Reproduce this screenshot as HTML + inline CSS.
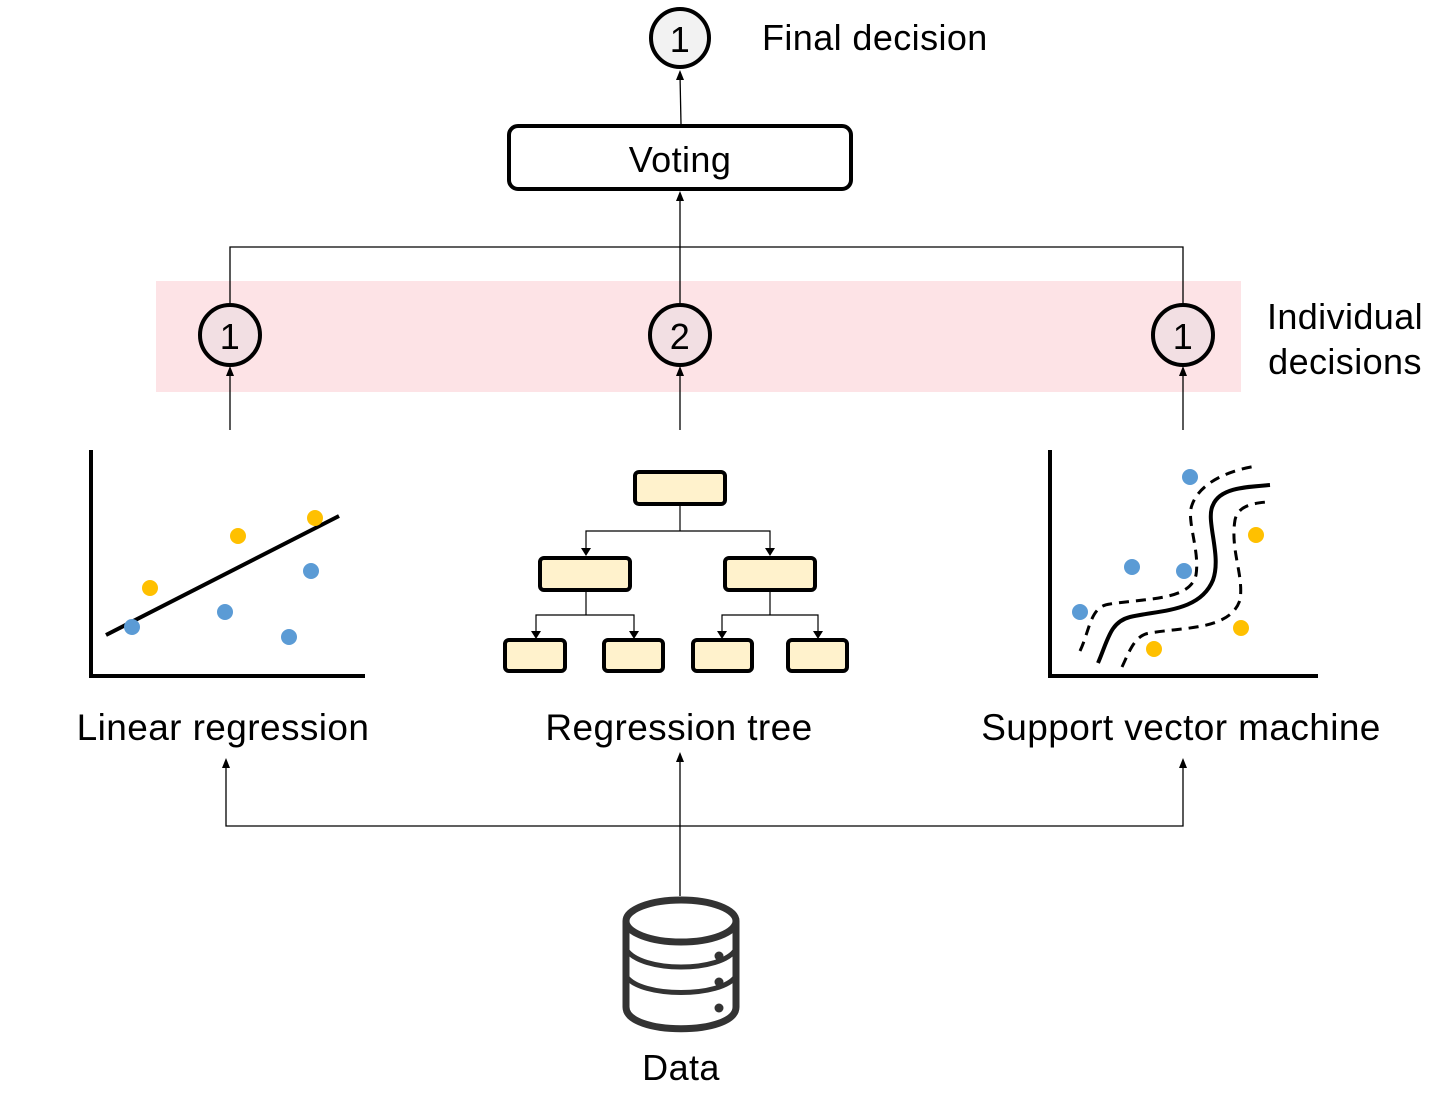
<!DOCTYPE html>
<html><head><style>body{margin:0;background:#fff}svg{display:block}text{font-family:"Liberation Sans","Noto Sans CJK KR",sans-serif;fill:#000;letter-spacing:0.4px}</style></head>
<body>
<svg width="1450" height="1110" viewBox="0 0 1450 1110" xmlns="http://www.w3.org/2000/svg">
<rect x="156" y="281" width="1085" height="111" fill="#fde3e6"/>
<!-- top -->
<circle cx="680" cy="38" r="29" fill="#f2f2f2" stroke="#000" stroke-width="4"/>
<text x="680" y="52" font-size="36" text-anchor="middle">1</text>
<text x="762" y="50" font-size="36">Final decision</text>
<line x1="681" y1="124" x2="680" y2="75" stroke="#000" stroke-width="1.3"/>
<rect x="509" y="126" width="342" height="63" rx="9" fill="#fff" stroke="#000" stroke-width="4"/>
<text x="680" y="172" font-size="36" text-anchor="middle">Voting</text>
<path d="M230,303 V247 H1183 V303" fill="none" stroke="#000" stroke-width="1.3"/>
<line x1="680" y1="303" x2="680" y2="198" stroke="#000" stroke-width="1.3"/>
<g fill="#f2dfe3" stroke="#000" stroke-width="4">
<circle cx="230" cy="335" r="30"/><circle cx="680" cy="335" r="30"/><circle cx="1183" cy="335" r="30"/></g>
<g font-size="36" text-anchor="middle"><text x="230" y="349">1</text><text x="680" y="349">2</text><text x="1183" y="349">1</text></g>
<text x="1345" y="329" font-size="36" text-anchor="middle">Individual</text>
<text x="1345" y="374" font-size="36" text-anchor="middle">decisions</text>
<g stroke="#000" stroke-width="1.3">
<line x1="230" y1="430" x2="230" y2="372"/>
<line x1="680" y1="430" x2="680" y2="372"/>
<line x1="1183" y1="430" x2="1183" y2="372"/>
</g>
<g fill="#000">
<path d="M676,80h8l-4,-10z"/><path d="M676,201h8l-4,-10z"/>
<path d="M226,376h8l-4,-10z"/><path d="M676,376h8l-4,-10z"/><path d="M1179,376h8l-4,-10z"/>
</g>
<!-- linear regression -->
<path d="M91,450 V676 H365" fill="none" stroke="#000" stroke-width="4"/>
<line x1="106" y1="635" x2="339" y2="516" stroke="#000" stroke-width="4"/>
<g fill="#5b9bd5"><circle cx="132" cy="627" r="8"/><circle cx="225" cy="612" r="8"/><circle cx="289" cy="637" r="8"/><circle cx="311" cy="571" r="8"/></g>
<g fill="#ffc000"><circle cx="150" cy="588" r="8"/><circle cx="238" cy="536" r="8"/><circle cx="315" cy="518" r="8"/></g>
<text x="223" y="740" font-size="37" text-anchor="middle">Linear regression</text>
<!-- tree -->
<g fill="none" stroke="#000" stroke-width="1.2">
<path d="M680,504 V531 H586 V550 M680,531 H770 V550"/>
<path d="M586,590 V615 H536 V633 M586,615 H634 V633"/>
<path d="M770,590 V615 H722 V633 M770,615 H818 V633"/>
</g>
<g fill="#000"><path d="M581,548h10l-5,8z"/><path d="M765,548h10l-5,8z"/><path d="M531,631h10l-5,8z"/><path d="M629,631h10l-5,8z"/><path d="M717,631h10l-5,8z"/><path d="M813,631h10l-5,8z"/></g>
<g fill="#fff2cc" stroke="#000" stroke-width="4">
<rect x="635" y="472" width="90" height="32" rx="4"/>
<rect x="540" y="558" width="90" height="32" rx="4"/>
<rect x="725" y="558" width="90" height="32" rx="4"/>
<rect x="505" y="640" width="60" height="31" rx="4"/>
<rect x="604" y="640" width="59" height="31" rx="4"/>
<rect x="693" y="640" width="59" height="31" rx="4"/>
<rect x="788" y="640" width="59" height="31" rx="4"/>
</g>
<text x="679" y="740" font-size="37" text-anchor="middle">Regression tree</text>
<!-- SVM -->
<path d="M1050,450 V676 H1318" fill="none" stroke="#000" stroke-width="4"/>
<path d="M1098,663 C1108,640 1110,622 1130,617 C1160,610 1200,612 1213,580 C1222,555 1205,520 1213,505 C1220,488 1245,487 1270,485" fill="none" stroke="#000" stroke-width="4"/>
<path d="M1080,651 C1090,630 1090,606 1110,604 C1150,598 1190,600 1196,575 C1200,550 1186,520 1192,505 C1200,482 1230,470 1257,466" fill="none" stroke="#000" stroke-width="3" stroke-dasharray="10,7"/>
<path d="M1122,667 C1130,650 1135,635 1150,633 C1185,627 1230,630 1240,600 C1244,575 1230,550 1235,520 C1238,505 1255,503 1267,502" fill="none" stroke="#000" stroke-width="3" stroke-dasharray="10,7"/>
<g fill="#5b9bd5"><circle cx="1190" cy="477" r="8"/><circle cx="1132" cy="567" r="8"/><circle cx="1184" cy="571" r="8"/><circle cx="1080" cy="612" r="8"/></g>
<g fill="#ffc000"><circle cx="1256" cy="535" r="8"/><circle cx="1241" cy="628" r="8"/><circle cx="1154" cy="649" r="8"/></g>
<text x="1181" y="740" font-size="37" text-anchor="middle" letter-spacing="1">Support vector machine</text>
<!-- data connectors -->
<path d="M226,762 V826 H1183 V762" fill="none" stroke="#000" stroke-width="1.3"/>
<g fill="#000"><path d="M222,768h8l-4,-10z"/><path d="M1179,768h8l-4,-10z"/><path d="M676,762h8l-4,-10z"/></g>
<line x1="680" y1="896" x2="680" y2="760" stroke="#000" stroke-width="1.3"/>
<!-- cylinder -->
<g fill="none" stroke="#333" stroke-width="7">
<ellipse cx="681" cy="921" rx="55" ry="21"/>
<path d="M626,921 V1007 C626,1036 736,1036 736,1007 V921"/>
<path d="M626,949 C640,973 722,973 736,949" stroke-width="5"/>
<path d="M626,976 C640,998 722,998 736,976" stroke-width="5"/>
</g>
<g fill="#333"><circle cx="719" cy="956" r="4.5"/><circle cx="719" cy="982" r="4.5"/><circle cx="719" cy="1008" r="4.5"/></g>
<text x="681" y="1080" font-size="36" text-anchor="middle">Data</text>
</svg>
</body></html>
